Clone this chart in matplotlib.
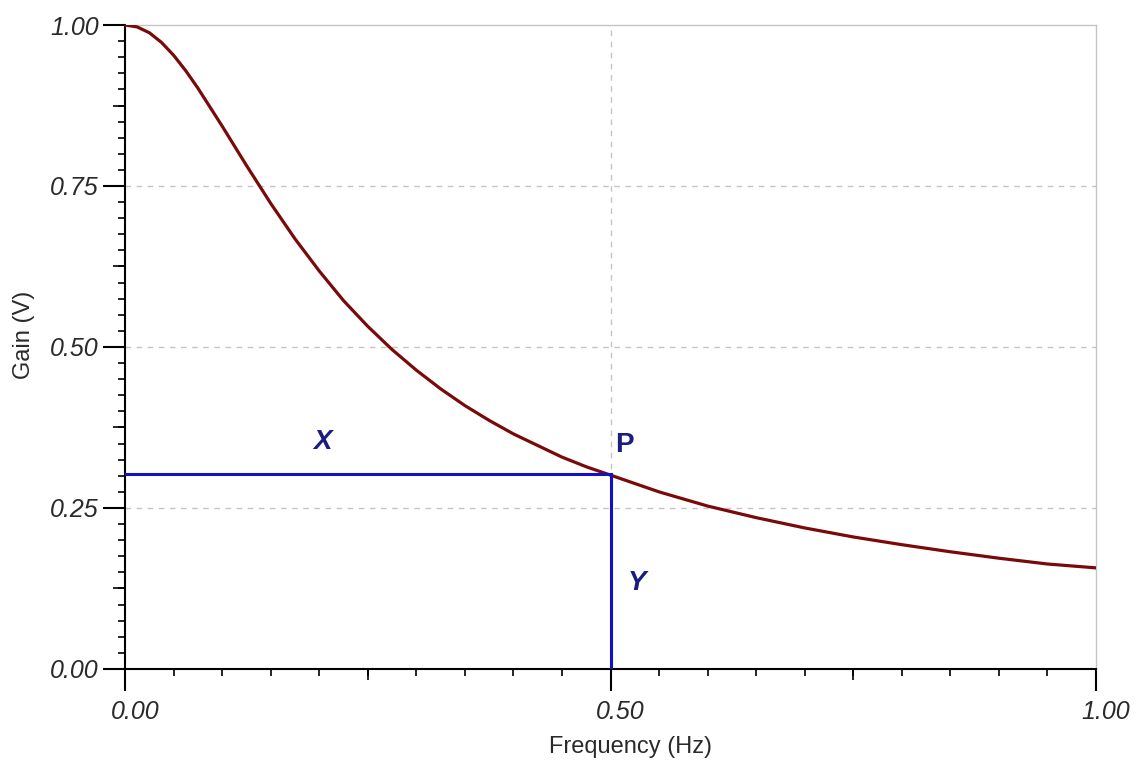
import numpy as np
import matplotlib.pyplot as plt
from matplotlib.ticker import MultipleLocator, NullFormatter
import matplotlib.transforms as mtransforms

plt.rcParams['font.family'] = ['Liberation Sans', 'DejaVu Sans']

# 读图得到的曲线数据
freq = [0.000, 0.0125, 0.025, 0.0375, 0.050, 0.0625, 0.075, 0.100, 0.125, 0.150,
        0.175, 0.200, 0.225, 0.250, 0.275, 0.300, 0.325, 0.350, 0.375, 0.400,
        0.425, 0.450, 0.475, 0.500, 0.550, 0.600, 0.650, 0.700, 0.750, 0.800,
        0.850, 0.900, 0.950, 1.000]
gain = [1.000, 0.997, 0.988, 0.973, 0.953, 0.929, 0.902, 0.843, 0.782, 0.723,
        0.668, 0.618, 0.572, 0.532, 0.496, 0.464, 0.435, 0.409, 0.386, 0.365,
        0.347, 0.329, 0.314, 0.301, 0.275, 0.253, 0.235, 0.219, 0.205, 0.193,
        0.182, 0.172, 0.163, 0.157]

# 点P
p_freq = 0.5
p_gain = 0.302

curve_color = '#7a0a0a'
line_color = '#1010c8'
text_color = '#1c1c80'
grid_color = '#c4c4c4'

fig = plt.figure(figsize=(11.41, 7.67), dpi=100)
ax = fig.add_axes([0.1096, 0.1278, 0.8510, 0.8396])

ax.plot(freq, gain, color=curve_color, lw=2.3, zorder=3)
ax.plot([0, p_freq], [p_gain, p_gain], color=line_color, lw=2.2, zorder=4)
ax.plot([p_freq, p_freq], [0, p_gain], color=line_color, lw=2.2, zorder=4)

ax.text(0.203, 0.352, 'X', color=text_color, fontsize=20, fontweight='bold',
        fontstyle='italic', ha='center', va='center')
ax.text(0.514, 0.348, 'P', color=text_color, fontsize=20, fontweight='bold',
        ha='center', va='center')
ax.text(0.527, 0.134, 'Y', color=text_color, fontsize=20, fontweight='bold',
        fontstyle='italic', ha='center', va='center')

ax.set_xlim(0, 1)
ax.set_ylim(0, 1)

# 网格（虚线）
for yv in [0.25, 0.5, 0.75]:
    ax.axhline(yv, color=grid_color, lw=1, ls=(0, (4, 4)), zorder=1)
ax.axvline(0.5, color=grid_color, lw=1, ls=(0, (4, 4)), zorder=1)

# 边框
for s in ['left', 'bottom']:
    ax.spines[s].set_linewidth(1.5)
    ax.spines[s].set_color('black')
for s in ['top', 'right']:
    ax.spines[s].set_linewidth(1.0)
    ax.spines[s].set_color(grid_color)

# 刻度
ax.xaxis.set_major_locator(MultipleLocator(0.5))
ax.xaxis.set_minor_locator(MultipleLocator(0.05))
ax.yaxis.set_major_locator(MultipleLocator(0.25))
ax.yaxis.set_minor_locator(MultipleLocator(0.025))
ax.xaxis.set_major_formatter(lambda v, pos: f'{v:.2f}')
ax.yaxis.set_major_formatter(lambda v, pos: f'{v:.2f}')
ax.tick_params(axis='both', which='major', length=16, width=1.5, direction='out',
               labelsize=18, labelcolor='#2a2a2a', pad=3)
ax.tick_params(axis='both', which='minor', length=5, width=1.2, direction='out')
ax.tick_params(axis='x', which='major', pad=6)
for lab in ax.get_xticklabels() + ax.get_yticklabels():
    lab.set_fontstyle('italic')

offset = mtransforms.ScaledTranslation(10 / 100, 0, fig.dpi_scale_trans)
for lab in ax.get_xticklabels():
    lab.set_transform(lab.get_transform() + offset)

# 中等长度刻度
secx = ax.secondary_xaxis('bottom')
secx.set_xticks([0.25, 0.75])
secx.xaxis.set_major_formatter(NullFormatter())
secx.tick_params(length=8, width=1.2, direction='out')
secx.spines['bottom'].set_visible(False)

secy = ax.secondary_yaxis('left')
secy.set_yticks([0.125, 0.375, 0.625, 0.875])
secy.yaxis.set_major_formatter(NullFormatter())
secy.tick_params(length=8.5, width=1.2, direction='out')
secy.spines['left'].set_visible(False)

ax.set_xlabel('Frequency (Hz)', fontsize=17, color='#2a2a2a')
ax.set_ylabel('Gain (V)', fontsize=17, color='#2a2a2a')
ax.xaxis.set_label_coords(0.521, -0.104)
ax.yaxis.set_label_coords(-0.093, 0.519)

fig.savefig('out.png', dpi=100)
